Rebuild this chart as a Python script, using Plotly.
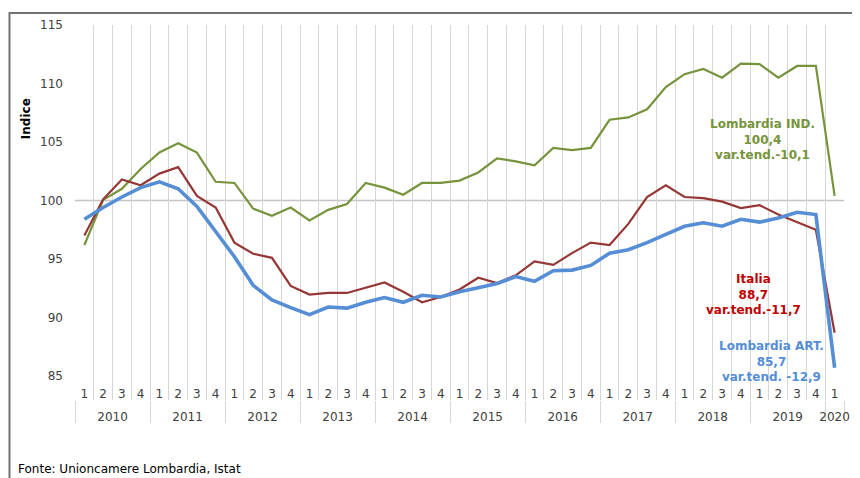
import plotly.graph_objects as go

years = ["2010"] * 4 + ["2011"] * 4 + ["2012"] * 4 + ["2013"] * 4 + ["2014"] * 4 + \
        ["2015"] * 4 + ["2016"] * 4 + ["2017"] * 4 + ["2018"] * 4 + ["2019"] * 4 + ["2020"]
quarters = ["1", "2", "3", "4"] * 10 + ["1"]

lomb_ind = [96.2, 100.05, 101.0, 102.7, 104.1, 104.9, 104.1, 101.6, 101.5, 99.3,
            98.7, 99.4, 98.3, 99.2, 99.7, 101.5, 101.1, 100.5, 101.5, 101.5,
            101.7, 102.4, 103.6, 103.35, 103.0, 104.5, 104.3, 104.5, 106.9, 107.1,
            107.8, 109.7, 110.8, 111.25, 110.5, 111.7, 111.65, 110.5, 111.5, 111.5,
            100.4]
italia = [97.0, 100.1, 101.8, 101.3, 102.3, 102.85, 100.4, 99.4, 96.4, 95.45,
          95.1, 92.7, 91.96, 92.1, 92.1, 92.55, 93.0, 92.2, 91.3, 91.75,
          92.4, 93.4, 92.95, 93.6, 94.8, 94.5, 95.5, 96.4, 96.2, 98.0,
          100.3, 101.3, 100.3, 100.2, 99.9, 99.35, 99.6, 98.8, 98.15, 97.5,
          88.7]
lomb_art = [98.4, 99.4, 100.3, 101.1, 101.6, 101.0, 99.5, 97.3, 95.2, 92.75,
            91.5, 90.85, 90.25, 90.9, 90.8, 91.3, 91.7, 91.3, 91.9, 91.75,
            92.2, 92.55, 92.9, 93.5, 93.1, 94.0, 94.05, 94.45, 95.5, 95.8,
            96.4, 97.1, 97.8, 98.1, 97.8, 98.4, 98.15, 98.5, 99.0, 98.8,
            85.7]

y_ticks = [85, 90, 95, 100, 105, 110, 115]

FONT = "DejaVu Sans"
GREEN = "#77933C"
RED_LINE = "#953735"
RED_TEXT = "#C00000"
BLUE = "#558ED5"
GRID = "#D6D6D6"
TXT = "#404040"

n = len(quarters)
idx = list(range(n))
boundaries = [i - 0.5 for i in range(n + 1)]

# year groups
year_names = []
year_centers = []
year_bounds = []
for i, y in enumerate(years):
    if not year_names or year_names[-1] != y:
        year_names.append(y)
        year_bounds.append(i - 0.5)
year_bounds.append(n - 0.5)
for k, y in enumerate(year_names):
    members = [i for i, yy in enumerate(years) if yy == y]
    year_centers.append(sum(members) / len(members))

fig = go.Figure()
fig.add_trace(go.Scatter(x=idx, y=lomb_ind, mode="lines", name="Lombardia IND.",
                         line=dict(color=GREEN, width=2.2)))
fig.add_trace(go.Scatter(x=idx, y=italia, mode="lines", name="Italia",
                         line=dict(color=RED_LINE, width=2.2)))
fig.add_trace(go.Scatter(x=idx, y=lomb_art, mode="lines", name="Lombardia ART.",
                         line=dict(color=BLUE, width=3.6)))
# invisible trace to activate second x axis for year labels
fig.add_trace(go.Scatter(x=[idx[0]], y=[lomb_ind[0]], xaxis="x2", mode="markers",
                         marker=dict(opacity=0), hoverinfo="skip", showlegend=False))

fig.update_layout(
    width=852, height=470,
    margin=dict(l=67, r=10, t=16, b=78),
    paper_bgcolor="white", plot_bgcolor="white",
    showlegend=False,
    font=dict(family=FONT, size=12, color=TXT),
    xaxis=dict(
        range=[-0.5, n - 0.5],
        tickmode="array", tickvals=idx, ticktext=quarters,
        ticklabelposition="inside", ticks="",
        ticklabelstandoff=-3,
        showgrid=False, zeroline=False, showline=False,
        tickfont=dict(family=FONT, size=12, color=TXT),
        minor=dict(tickmode="array", tickvals=boundaries, showgrid=True,
                   gridcolor=GRID, gridwidth=1.3, ticks=""),
    ),
    xaxis2=dict(
        overlaying="x", side="bottom", anchor="y",
        range=[-0.5, n - 0.5],
        tickmode="array", tickvals=year_centers, ticktext=year_names,
        ticks="", showgrid=False, zeroline=False, showline=False,
        ticklabelstandoff=8,
        tickfont=dict(family=FONT, size=12, color=TXT),
        minor=dict(tickmode="array", tickvals=year_bounds, ticks="outside",
                   ticklen=22, tickcolor=GRID, tickwidth=1.3, showgrid=False),
    ),
    yaxis=dict(
        range=[82.95, 115], tickmode="array", tickvals=y_ticks,
        showgrid=False, zeroline=False, showline=False, ticks="",
        ticklabelstandoff=11,
        tickfont=dict(family=FONT, size=12, color=TXT),
    ),
    shapes=[
        dict(type="line", xref="paper", yref="y", x0=0, x1=1, y0=100, y1=100,
             line=dict(color="#C4C4C4", width=1.3), layer="below"),
        dict(type="rect", xref="paper", yref="paper", x0=-0.0852, x1=1.03,
             y0=-0.3, y1=1.0319, line=dict(color="#767171", width=2),
             fillcolor="rgba(0,0,0,0)"),
    ],
    annotations=[
        dict(text="<b>Indice</b>", xref="paper", yref="paper", x=-0.0645, y=0.75,
             xanchor="center", yanchor="middle",
             textangle=-90, showarrow=False, font=dict(family=FONT, size=12, color="black")),
        dict(text="<b>Lombardia IND.<br>100,4<br>var.tend.-10,1</b>", xref="paper", yref="paper",
             x=0.894, y=0.694, xanchor="center", yanchor="middle", showarrow=False, align="center",
             font=dict(family=FONT, size=12, color=GREEN)),
        dict(text="<b>Italia<br>88,7<br>var.tend.-11,7</b>", xref="paper", yref="paper",
             x=0.8826, y=0.282, xanchor="center", yanchor="middle", showarrow=False, align="center",
             font=dict(family=FONT, size=12, color=RED_TEXT)),
        dict(text="<b>Lombardia ART.<br>85,7<br>var.tend. -12,9</b>", xref="paper", yref="paper",
             x=0.906, y=0.1037, xanchor="center", yanchor="middle", showarrow=False, align="center",
             font=dict(family=FONT, size=12, color=BLUE)),
        dict(text="Fonte: Unioncamere Lombardia, Istat", xref="paper", yref="paper",
             x=-0.0761, y=-0.1835, xanchor="left", yanchor="middle", showarrow=False,
             font=dict(family=FONT, size=12, color="black")),
    ],
)

fig.write_html("out.html")
